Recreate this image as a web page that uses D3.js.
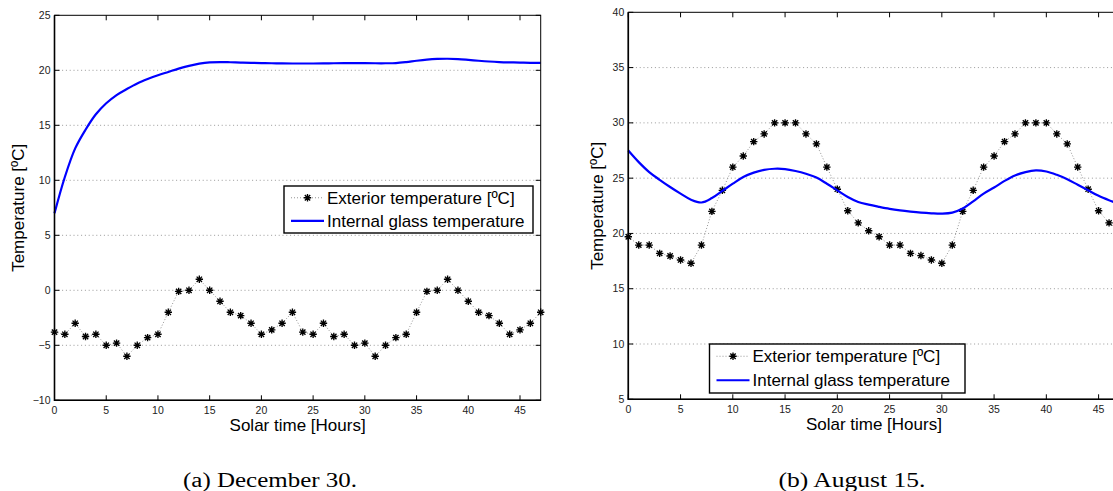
<!DOCTYPE html>
<html>
<head>
<meta charset="utf-8">
<script src="https://cdn.jsdelivr.net/npm/d3@7"></script>
<style>
  body { margin: 0; background: #fff; }
  svg { display: block; }
</style>
</head>
<body>
<div id="plot"></div>
<script>
// hours on the x axis (solar time)
const hours = [0,1,2,3,4,5,6,7,8,9,10,11,12,13,14,15,16,17,18,19,20,21,22,23,
               24,25,26,27,28,29,30,31,32,33,34,35,36,37,38,39,40,41,42,43,44,45,46,47];

// (a) December 30
const decExterior = [-3.8,-4.0,-3.0,-4.2,-4.0,-5.0,-4.8,-6.0,-5.0,-4.3,-4.0,-2.0,-0.1,0.0,1.0,0.0,-1.0,-2.0,-2.3,-3.0,-4.0,-3.6,-3.0,-2.0,
                     -3.8,-4.0,-3.0,-4.2,-4.0,-5.0,-4.8,-6.0,-5.0,-4.3,-4.0,-2.0,-0.1,0.0,1.0,0.0,-1.0,-2.0,-2.3,-3.0,-4.0,-3.6,-3.0,-2.0];
const decGlass = [7.0,10.3,12.9,14.6,16.0,17.0,17.75,18.3,18.8,19.2,19.55,19.85,20.15,20.4,20.6,20.72,20.75,20.73,20.7,20.68,20.66,20.64,20.63,20.62,
                  20.62,20.62,20.63,20.64,20.65,20.65,20.65,20.64,20.64,20.66,20.75,20.87,20.97,21.03,21.05,21.02,20.95,20.87,20.8,20.75,20.72,20.7,20.68,20.67];

// (b) August 15
const augExterior = [19.7,18.95,18.95,18.2,17.96,17.6,17.3,18.95,22.0,23.9,26.0,27.0,28.3,29.0,30.0,30.0,30.0,29.0,28.1,26.0,24.0,22.05,20.96,20.24,
                     19.7,18.95,18.95,18.2,18.0,17.6,17.3,18.95,22.0,23.9,26.0,27.0,28.3,29.0,30.0,30.0,30.0,29.0,28.1,26.0,24.0,22.05,20.96,20.24];
const augGlass = [27.5,26.45,25.55,24.85,24.2,23.6,23.05,22.8,23.2,23.85,24.5,25.1,25.5,25.75,25.85,25.82,25.65,25.4,25.05,24.5,23.9,23.3,22.85,22.6,
                  22.4,22.22,22.08,21.97,21.88,21.82,21.79,21.88,22.25,22.9,23.6,24.15,24.75,25.25,25.55,25.7,25.6,25.3,24.9,24.4,23.9,23.4,23.0,22.65];

const xTicks = [0,5,10,15,20,25,30,35,40,45];
const decTicks = [-10,-5,0,5,10,15,20,25];
const augTicks = [5,10,15,20,25,30,35,40];

const legendLabels = ["Exterior temperature [ºC]", "Internal glass temperature"];
const xTitle = "Solar time [Hours]";
const yTitle = "Temperature [ºC]";
const captions = ["(a) December 30.", "(b) August 15."];

const width = 1113, height = 491;
const sans = "'Liberation Sans', Arial, Helvetica, sans-serif";

const svg = d3.select("#plot").append("svg")
  .attr("width", width)
  .attr("height", height);

const starPath = r => {
  const d = r * 0.72;
  return `M${-r},0H${r}M0,${-r}V${r}M${-d},${-d}L${d},${d}M${-d},${d}L${d},${-d}`;
};

function drawPanel(p) {
  const x = d3.scaleLinear().domain([0, 47]).range(p.xRange);
  const y = d3.scaleLinear().domain(p.yDomain).range(p.yRange);
  const g = svg.append("g");
  const [x0, x1] = p.xRange;
  const [yb, yt] = p.yRange;

  // dotted horizontal grid
  g.selectAll(".grid")
    .data(p.yTicks.filter(t => t !== p.yDomain[0] && t !== p.yDomain[1]))
    .enter().append("line")
    .attr("x1", x0).attr("x2", x1)
    .attr("y1", d => y(d)).attr("y2", d => y(d))
    .attr("stroke", "#999")
    .attr("stroke-width", 1)
    .attr("stroke-dasharray", "1,2.8");

  // exterior: dotted line + star markers
  const ext = hours.map((h, i) => ({ h, v: p.exterior[i] }));
  g.append("path")
    .datum(ext)
    .attr("fill", "none")
    .attr("stroke", "#888")
    .attr("stroke-width", 0.9)
    .attr("stroke-dasharray", "1,2")
    .attr("d", d3.line().x(d => x(d.h)).y(d => y(d.v)));

  g.selectAll(".star")
    .data(ext)
    .enter().append("path")
    .attr("transform", d => `translate(${x(d.h)},${y(d.v)})`)
    .attr("d", starPath(3.7))
    .attr("stroke", "#000")
    .attr("stroke-width", 1.35)
    .attr("fill", "none");

  // internal glass temperature
  g.append("path")
    .datum(hours.map((h, i) => ({ h, v: p.glass[i] })))
    .attr("fill", "none")
    .attr("stroke", "#0000ff")
    .attr("stroke-width", 2.2)
    .attr("d", d3.line().curve(d3.curveCatmullRom.alpha(0.5)).x(d => x(d.h)).y(d => y(d.v)));

  // frame
  g.append("rect")
    .attr("x", x0).attr("y", yt)
    .attr("width", x1 - x0).attr("height", yb - yt)
    .attr("fill", "none")
    .attr("stroke", "#000")
    .attr("stroke-width", 1);
  g.append("path")
    .attr("d", `M${x0},${yt}V${yb}H${x1}`)
    .attr("fill", "none")
    .attr("stroke", "#000")
    .attr("stroke-width", 1.6);

  // inward ticks, all four sides
  const tl = 5;
  xTicks.forEach(t => {
    g.append("path").attr("d", `M${x(t)},${yb}v${-tl}M${x(t)},${yt}v${tl}`)
      .attr("stroke", "#000").attr("stroke-width", 1);
  });
  p.yTicks.forEach(t => {
    g.append("path").attr("d", `M${x0},${y(t)}h${tl}M${x1},${y(t)}h${-tl}`)
      .attr("stroke", "#000").attr("stroke-width", 1);
  });

  // tick labels
  g.selectAll(".xl")
    .data(xTicks).enter().append("text")
    .attr("x", d => x(d)).attr("y", yb + 14)
    .attr("text-anchor", "middle")
    .style("font-family", sans).style("font-size", "10.5px").attr("fill", "#222")
    .text(d => d);
  g.selectAll(".yl")
    .data(p.yTicks).enter().append("text")
    .attr("x", x0 - 4).attr("y", d => y(d) + 3.5)
    .attr("text-anchor", "end")
    .style("font-family", sans).style("font-size", "10.5px").attr("fill", "#222")
    .text(d => d < 0 ? "\u2212" + Math.abs(d) : d);

  // axis titles
  g.append("text")
    .attr("x", (p.xRange[0] + p.xRange[1]) / 2).attr("y", yb + 31)
    .attr("text-anchor", "middle")
    .style("font-family", sans).style("font-size", "17px")
    .text(xTitle);
  g.append("text")
    .attr("transform", `translate(${p.yTitleX},${(yb + yt) / 2}) rotate(-90)`)
    .attr("text-anchor", "middle")
    .style("font-family", sans).style("font-size", "17px")
    .text(yTitle);

  // legend
  const L = p.legend;
  g.append("rect")
    .attr("x", L.x).attr("y", L.y).attr("width", L.w).attr("height", L.h)
    .attr("fill", "#fff").attr("stroke", "#000").attr("stroke-width", 1.4);
  const r1 = L.y + L.h * 0.25, r2 = L.y + L.h * 0.74;
  g.append("line")
    .attr("x1", L.x + 7).attr("x2", L.x + 40).attr("y1", r1).attr("y2", r1)
    .attr("stroke", "#888").attr("stroke-width", 0.9).attr("stroke-dasharray", "1,2");
  g.append("path")
    .attr("transform", `translate(${L.x + 23.5},${r1})`)
    .attr("d", starPath(3.7)).attr("stroke", "#000").attr("stroke-width", 1.35);
  g.append("line")
    .attr("x1", L.x + 7).attr("x2", L.x + 40).attr("y1", r2).attr("y2", r2)
    .attr("stroke", "#0000ff").attr("stroke-width", 2.2);
  legendLabels.forEach((t, i) => {
    g.append("text")
      .attr("x", L.x + 43).attr("y", (i ? r2 : r1) + 6)
      .style("font-family", sans).style("font-size", "17px")
      .text(t);
  });

  // caption (LaTeX-like serif, stretched to the reference width)
  svg.append("text")
    .attr("x", p.captionX).attr("y", 487)
    .attr("text-anchor", "middle")
    .attr("textLength", p.captionW)
    .attr("lengthAdjust", "spacingAndGlyphs")
    .style("font-family", "'Liberation Serif', 'Times New Roman', serif")
    .style("font-size", "20px")
    .text(p.caption);
}

drawPanel({
  exterior: decExterior, glass: decGlass,
  xRange: [54.5, 540.7],
  yDomain: [-10, 25], yRange: [400.3, 15.3], yTicks: decTicks,
  yTitleX: 24,
  legend: { x: 284, y: 186, w: 249, h: 47 },
  caption: captions[0], captionX: 270, captionW: 174
});

drawPanel({
  exterior: augExterior, glass: augGlass,
  xRange: [628.3, 1119.5],
  yDomain: [5, 40], yRange: [399.3, 12.3], yTicks: augTicks,
  yTitleX: 603,
  legend: { x: 709.5, y: 344, w: 255.5, h: 49 },
  caption: captions[1], captionX: 852, captionW: 147
});
</script>
</body>
</html>
